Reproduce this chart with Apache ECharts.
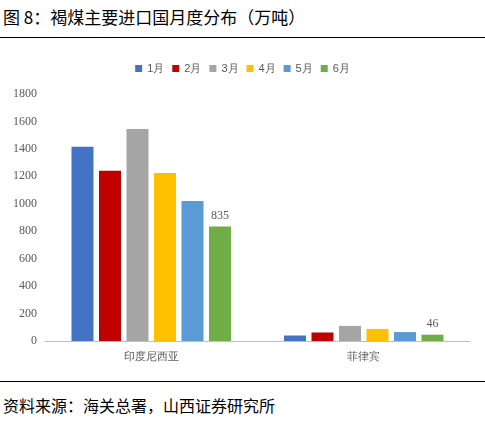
<!DOCTYPE html>
<html><head><meta charset="utf-8">
<script src="https://cdn.jsdelivr.net/npm/echarts@6/dist/echarts.min.js"></script>
<style>body{margin:0;background:#fff;font-family:"Noto Sans CJK SC";}
#t{position:absolute;left:3px;top:4px;font-size:17px;color:#000;}
#l1{position:absolute;left:0;top:37px;width:485px;border-top:1px solid #000;}
#l2{position:absolute;left:0;top:381px;width:485px;border-top:1px solid #000;}
#s{position:absolute;left:3px;top:393px;font-size:16px;color:#000;}
#c{position:absolute;left:0;top:40px;width:485px;height:340px;}</style></head>
<body><div id="t">图 8：褐煤主要进口国月度分布（万吨）</div><div id="l1"></div>
<div id="c"></div><div id="l2"></div><div id="s">资料来源：海关总署，山西证券研究所</div>
<script>
const categories=['印度尼西亚','菲律宾'];
const months=['1月','2月','3月','4月','5月','6月'];
const m1=[1415,40];
const m2=[1240,62];
const m3=[1545,110];
const m4=[1225,88];
const m5=[1020,65];
const m6=[835,46];
const colors=['#4472C4','#C00000','#A5A5A5','#FFC000','#5B9BD5','#70AD47'];
const data=[m1,m2,m3,m4,m5,m6];
const ch=echarts.init(document.getElementById('c'));
ch.setOption({
 color:colors,animation:false,
 legend:{top:18,left:'center',itemWidth:7,itemHeight:7,itemGap:8,icon:'rect',textStyle:{fontSize:11,color:'#595959'}},
 grid:{left:45,right:15,top:54,bottom:39},
 xAxis:{type:'category',data:categories,axisTick:{show:false},axisLine:{lineStyle:{color:'#BFBFBF'}},axisLabel:{color:'#595959',fontSize:11,margin:10}},
 yAxis:{type:'value',min:0,max:1800,interval:200,splitLine:{show:false},axisLabel:{color:'#595959',fontSize:12,fontFamily:'Liberation Serif',formatter:v=>String(v)}},
 series:data.map((d,i)=>({name:months[i],type:'bar',data:d,barWidth:22,barGap:'25%',
   label:{show:i===5,position:'top',color:'#595959',fontSize:12,fontFamily:'Liberation Serif'}}))
});
</script></body></html>
